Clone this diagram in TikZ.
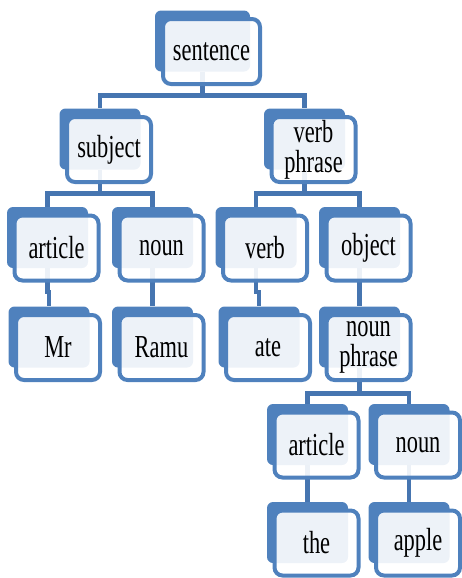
\documentclass[tikz,border=0pt]{standalone}
\usepackage{fontspec}
\setmainfont[FakeStretch=0.7]{Liberation Serif}
\usepackage{tikz}
\usetikzlibrary{backgrounds}

\definecolor{boxblue}{HTML}{4F81BD}
\definecolor{linkblue}{HTML}{4675B0}

\begin{document}
\begin{tikzpicture}[x=0.5pt, y=-0.5pt]
                \tikzstyle{back}=[fill=boxblue, rounded corners=3pt, minimum width=40.5pt, minimum height=30.5pt, inner sep=0pt]
                \tikzstyle{front}=[draw=boxblue, line width=2pt, fill=white, fill opacity=0.9, text opacity=1, rounded corners=4pt, minimum width=42pt, minimum height=32.5pt, inner sep=0pt, align=center, font=\fontsize{16}{15}\selectfont, xshift=4.5pt, yshift=-5.25pt]
                \tikzstyle{edge}=[draw=linkblue, line width=2.25pt]
                
                \useasboundingbox (0,0) rectangle (461,578);
                
                \node[back, minimum width=47.5pt] (bs) at (202.5,41) {};
                \node[front, minimum width=48.5pt] (s) at (bs) {sentence};
                
                \node[back] (bsubj) at (100,139) {};
                \node[front] (subj) at (bsubj) {subject};
                \node[back] (bvp) at (304.5,139) {};
                \node[front] (vp) at (bvp) {verb\\phrase};
                
                \node[back] (bart) at (47.5,237.5) {};
                \node[front] (art) at (bart) {article};
                \node[back] (bn) at (152.5,237.5) {};
                \node[front] (n) at (bn) {noun};
                \node[back] (bv) at (256,237.5) {};
                \node[front] (v) at (bv) {verb};
                \node[back] (bobj) at (359.5,237.5) {};
                \node[front] (obj) at (bobj) {object};
                
                \node[back] (bmr) at (49,337) {};
                \node[front] (mr) at (bmr) {Mr};
                \node[back] (bramu) at (152.5,337) {};
                \node[front] (ramu) at (bramu) {Ramu};
                \node[back] (bate) at (259,337) {};
                \node[front] (ate) at (bate) {ate};
                \node[back] (bnp) at (359.5,337) {};
                \node[front] (np) at (bnp) {noun\\phrase};
                
                \node[back] (bart2) at (307.5,434.5) {};
                \node[front] (art2) at (bart2) {article};
                \node[back] (bn2) at (409,434.5) {};
                \node[front] (n2) at (bn2) {noun};
                
                \node[back] (bthe) at (307.5,532.5) {};
                \node[front] (the) at (bthe) {the};
                \node[back] (bapple) at (409,532.5) {};
                \node[front] (apple) at (bapple) {apple};
                
                \begin{pgfonlayer}{background}
                    \draw[edge] (bs.south) -- ++(0,23.5) -| (bsubj.north);
                    \draw[edge] (bs.south) -- ++(0,23.5) -| (bvp.north);
                    \draw[edge] (bsubj.south) -- ++(0,23.5) -| (bart.north);
                    \draw[edge] (bsubj.south) -- ++(0,23.5) -| (bn.north);
                    \draw[edge] (bvp.south) -- ++(0,23.5) -| (bv.north);
                    \draw[edge] (bvp.south) -- ++(0,23.5) -| (bobj.north);
                    \draw[edge] (bart.south) -- ++(0,23.5) -| (bmr.north);
                    \draw[edge] (bn.south) -- ++(0,23.5) -| (bramu.north);
                    \draw[edge] (bv.south) -- ++(0,23.5) -| (bate.north);
                    \draw[edge] (bobj.south) -- ++(0,23.5) -| (bnp.north);
                    \draw[edge] (bnp.south) -- ++(0,25.5) -| (bart2.north);
                    \draw[edge] (bnp.south) -- ++(0,25.5) -| (bn2.north);
                    \draw[edge] (bart2.south) -- ++(0,23.5) -| (bthe.north);
                    \draw[edge] (bn2.south) -- ++(0,23.5) -| (bapple.north);
                \end{pgfonlayer}
            \end{tikzpicture}
\end{document}
